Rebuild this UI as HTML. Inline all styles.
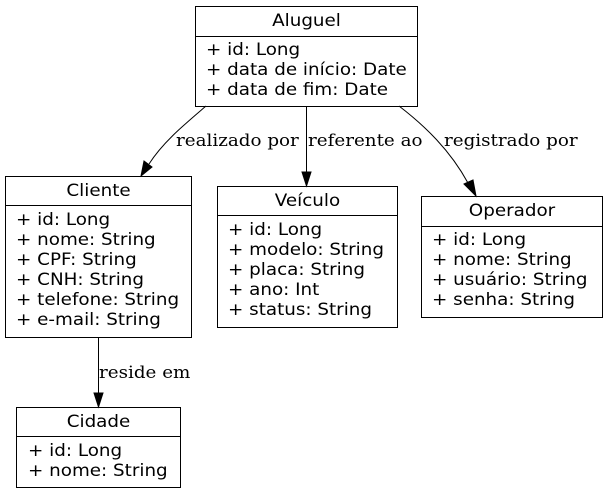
<!DOCTYPE html>
<html><head><meta charset="utf-8"><style>
html,body{margin:0;padding:0;background:#fff;}
svg{display:block;}
.h{font-family:"DejaVu Sans","Liberation Sans",sans-serif;font-size:16.5px;text-anchor:middle;}
.a{font-family:"DejaVu Sans","Liberation Sans",sans-serif;font-size:16.5px;}
.l{font-family:"DejaVu Serif","Liberation Serif",serif;font-size:16.5px;}
rect,line.s{fill:#fff;stroke:#000;stroke-width:1;}
path{fill:none;stroke:#000;stroke-width:1;}
polygon{fill:#000;stroke:#000;}
</style></head><body>
<svg width="608" height="495" viewBox="0 0 608 495">
<rect x="195.5" y="6.5" width="222" height="100"/>
<line class="s" x1="195.5" y1="36.5" x2="417.5" y2="36.5"/>
<text class="h" transform="translate(306.5,26) scale(1.11,1)">Aluguel</text>
<text class="a" transform="translate(206,55) scale(1.11,1)">+ id: Long</text>
<text class="a" transform="translate(206,75) scale(1.11,1)">+ data de início: Date</text>
<text class="a" transform="translate(206,95) scale(1.11,1)">+ data de fim: Date</text>
<rect x="5.5" y="176.5" width="186" height="161"/>
<line class="s" x1="5.5" y1="205.5" x2="191.5" y2="205.5"/>
<text class="h" transform="translate(98.5,196) scale(1.11,1)">Cliente</text>
<text class="a" transform="translate(16,225) scale(1.11,1)">+ id: Long</text>
<text class="a" transform="translate(16,245) scale(1.11,1)">+ nome: String</text>
<text class="a" transform="translate(16,265) scale(1.11,1)">+ CPF: String</text>
<text class="a" transform="translate(16,285) scale(1.11,1)">+ CNH: String</text>
<text class="a" transform="translate(16,305) scale(1.11,1)">+ telefone: String</text>
<text class="a" transform="translate(16,325) scale(1.11,1)">+ e-mail: String</text>
<rect x="217.5" y="186.5" width="180" height="141"/>
<line class="s" x1="217.5" y1="215.5" x2="397.5" y2="215.5"/>
<text class="h" transform="translate(307.5,206) scale(1.11,1)">Veículo</text>
<text class="a" transform="translate(228,235) scale(1.11,1)">+ id: Long</text>
<text class="a" transform="translate(228,255) scale(1.11,1)">+ modelo: String</text>
<text class="a" transform="translate(228,275) scale(1.11,1)">+ placa: String</text>
<text class="a" transform="translate(228,295) scale(1.11,1)">+ ano: Int</text>
<text class="a" transform="translate(228,315) scale(1.11,1)">+ status: String</text>
<rect x="421.5" y="196.5" width="181" height="121"/>
<line class="s" x1="421.5" y1="226.5" x2="602.5" y2="226.5"/>
<text class="h" transform="translate(512,216) scale(1.11,1)">Operador</text>
<text class="a" transform="translate(432,245) scale(1.11,1)">+ id: Long</text>
<text class="a" transform="translate(432,265) scale(1.11,1)">+ nome: String</text>
<text class="a" transform="translate(432,285) scale(1.11,1)">+ usuário: String</text>
<text class="a" transform="translate(432,305) scale(1.11,1)">+ senha: String</text>
<rect x="16.5" y="407.5" width="164" height="80"/>
<line class="s" x1="16.5" y1="436.5" x2="180.5" y2="436.5"/>
<text class="h" transform="translate(98.5,427) scale(1.11,1)">Cidade</text>
<text class="a" transform="translate(28,456) scale(1.11,1)">+ id: Long</text>
<text class="a" transform="translate(28,476) scale(1.11,1)">+ nome: String</text>
<path d="M206,106 C185,124 163,142 149,164"/>
<polygon points="144,161 141,176 152,167"/>
<path d="M306.5,106 L306.5,172"/>
<polygon points="302,172 311,172 306.5,186"/>
<path d="M399,106 C425,126 450,150 468,183"/>
<polygon points="464,184 473,180 476,196"/>
<path d="M98.5,338 L98.5,393"/>
<polygon points="94,393 103,393 98.5,407"/>
<text class="l" transform="translate(176,146) scale(1.11,1)">realizado por</text>
<text class="l" transform="translate(308,146) scale(1.11,1)">referente ao</text>
<text class="l" transform="translate(444,146) scale(1.11,1)">registrado por</text>
<text class="l" transform="translate(99,378) scale(1.11,1)">reside em</text>
</svg>
</body></html>
